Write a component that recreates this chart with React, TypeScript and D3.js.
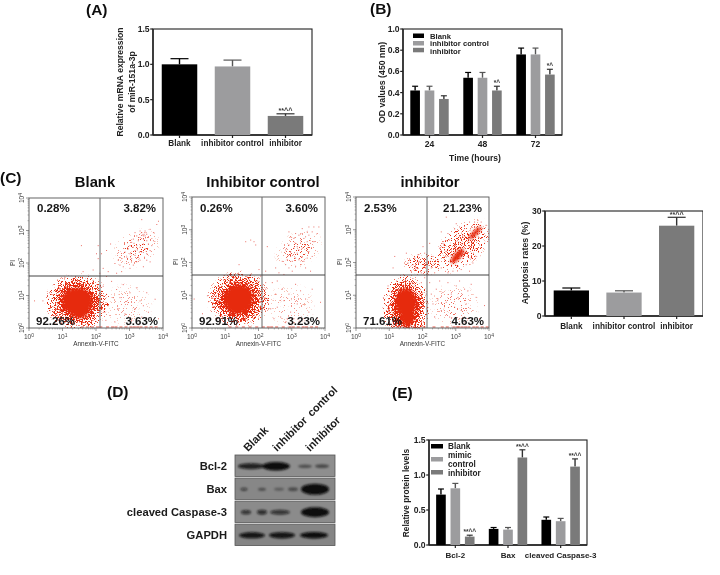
import React from "react";
import * as d3 from "d3";

const FONT = "'Liberation Sans', Arial, sans-serif";
const BLACK = "#060606", LIGHT = "#9c9c9e", DARK = "#7a7a7a";
const groupColors = [BLACK, LIGHT, DARK];

// ---- panel A
const aCats = ["Blank", "inhibitor control", "inhibitor"];
const aVals = [1.0, 0.97, 0.27];
const aErr = [1.08, 1.06, 0.3];
const aNotes = ["", "", "**^^"];
// ---- panel C bars
const cCats = ["Blank", "inhibitor control", "inhibitor"];
const cVals = [7.3, 6.7, 25.8];
const cErr = [8.0, 7.2, 28.2];
const cNotes = ["", "", "**^^"];
// ---- panel B
const bCats = ["24", "48", "72"];
const bSeries = ["Blank", "inhibitor control", "inhibitor"];
const bVals = [[0.42, 0.42, 0.34], [0.54, 0.54, 0.42], [0.76, 0.76, 0.57]];
const bErr = [[0.46, 0.46, 0.37], [0.59, 0.59, 0.46], [0.82, 0.82, 0.62]];
const bNotes = [["", "", ""], ["", "", "*^"], ["", "", "*^"]];
// ---- panel E
const eCats = ["Bcl-2", "Bax", "cleaved Caspase-3"];
const eVals = [[0.72, 0.81, 0.12], [0.23, 0.22, 1.25], [0.36, 0.34, 1.12]];
const eErr = [[0.8, 0.88, 0.14], [0.25, 0.25, 1.36], [0.4, 0.38, 1.23]];
const eNotes = [["", "", "**^^"], ["", "", "**^^"], ["", "", "**^^"]];
const eLegend = [["Blank"], ["mimic", "control"], ["inhibitor"]];

// ---- panel D, western blot: band [lane centre, half width, half height, darkness] per row
const blotRows = ["Bcl-2", "Bax", "cleaved Caspase-3", "GAPDH"];
const blotLabels = ["Blank", "inhibitor control", "inhibitor"];
const blotBands: number[][][] = [
  [[0.16, 0.13, 3, 0.85], [0.41, 0.14, 4.2, 1], [0.7, 0.07, 1.7, 0.45], [0.87, 0.07, 1.9, 0.5]],
  [[0.09, 0.035, 1.7, 0.55], [0.27, 0.04, 1.6, 0.45], [0.44, 0.05, 1.4, 0.35], [0.58, 0.05, 1.9, 0.45], [0.8, 0.14, 5.6, 1]],
  [[0.11, 0.05, 2.2, 0.7], [0.27, 0.05, 2.4, 0.75], [0.45, 0.1, 2.4, 0.7], [0.8, 0.14, 5, 1]],
  [[0.17, 0.13, 3, 0.95], [0.47, 0.13, 3.1, 0.95], [0.79, 0.14, 3.2, 1]],
];
const blotFill = ["#8e8e8e", "#878787", "#8b8b8b", "#858585"];

// ---- panel C flow plots: positions are log10 decades
const flowTitles = ["Blank", "Inhibitor control", "inhibitor"];
const flowPct = [
  ["0.28%", "3.82%", "92.26%", "3.63%"],
  ["0.26%", "3.60%", "92.91%", "3.23%"],
  ["2.53%", "21.23%", "71.61%", "4.63%"],
];
// density clouds: [cx, cy, rx, ry, angle, peak density]
const flowClouds = [
  [[1.45, 0.8, 1.0, 0.88, 0, 1], [3.2, 2.45, 0.8, 0.55, -30, 0.2], [2.95, 0.7, 0.8, 0.7, 0, 0.1]],
  [[1.4, 0.88, 0.98, 0.88, 0, 1], [3.2, 2.4, 0.8, 0.55, -30, 0.18], [2.95, 0.7, 0.8, 0.7, 0, 0.1]],
  [[1.5, 0.62, 0.74, 1.05, 0, 1], [3.2, 2.5, 1.1, 0.62, -42, 0.45], [2.0, 1.95, 0.6, 0.38, 0, 0.35], [2.95, 0.7, 0.8, 0.7, 0, 0.14]],
];
// solid centres of the clouds: [cx, cy, rx, ry, angle]
const flowCores = [
  [[1.45, 0.82, 0.44, 0.4, 0], [1.52, 0.68, 0.3, 0.36, 0], [1.32, 0.9, 0.3, 0.28, 0]],
  [[1.4, 0.88, 0.42, 0.42, 0], [1.5, 0.95, 0.3, 0.34, 0], [1.3, 0.72, 0.26, 0.28, 0]],
  [[1.5, 0.78, 0.3, 0.42, 0], [1.55, 0.38, 0.2, 0.32, 0], [3.05, 2.2, 0.28, 0.1, -48], [3.58, 2.9, 0.26, 0.07, -45]],
];
const flowUpper = [
  [[2.6,1.7],[2.7,1.95],[2.55,2],[2.8,1.9],[2.9,2],[3,1.85],[3.1,1.95],[3.2,2.05],[2.65,2.1],[2.75,2.15],[2.9,2.2],[3,2.3],[3.05,2.15],[3.15,2.25],[3.25,2.2],[3.3,2.1],[3.4,1.9],[3.5,2.1],[3.6,2.05],[2.85,2.35],[2.95,2.45],[3,2.55],[3.05,2.65],[3.1,2.5],[3.15,2.4],[3.2,2.55],[3.25,2.7],[3.3,2.5],[3.35,2.35],[3.4,2.6],[3.45,2.45],[3.5,2.3],[3.55,2.6],[3.6,2.4],[3.65,2.55],[3.7,2.7],[3.1,2.75],[3.2,2.85],[3.3,2.8],[3.35,2.95],[3.4,2.85],[3.45,3],[3.5,2.9],[3.55,2.8],[3.45,2.85],[3.4,2.75],[3.6,3.05],[3.7,2.95],[3.8,3.2],[3.85,3.3],[3.3,3],[3.5,2.7],[3.15,2.95],[3.42,2.9],[3.48,2.95],[3.38,2.88],[3.28,2.35],[3.12,2.62],[3.22,2.42],[2.75,1.75],[3.35,3.35],[1.55,2.55],[2.05,2.15],[2.15,2.3],[2,2.3],[2.3,2.4],[2.2,1.85],[1.9,1.8],[2.35,1.75],[2.05,2.55],[2.42,2.6],[2.3,1.6],[2.1,1.7],[1.6,1.75]],
  [[2.2,1.75],[2.5,1.85],[2.6,1.7],[2.75,1.65],[2.8,1.95],[2.9,1.85],[3,1.75],[3.1,1.9],[3.25,1.95],[3.4,1.85],[3.55,1.75],[2.7,2.05],[2.85,2.1],[2.95,2.2],[3,2.05],[3.1,2.15],[3.15,2.3],[3.2,2.1],[3.3,2.2],[3.35,2.05],[3.45,2.15],[3.5,2.35],[3.6,2.2],[2.8,2.4],[2.9,2.55],[2.95,2.35],[3.05,2.45],[3.1,2.6],[3.15,2.5],[3.2,2.4],[3.25,2.6],[3.3,2.45],[3.35,2.75],[3.4,2.55],[3.45,2.65],[3.5,2.85],[3.55,2.6],[3.65,2.65],[3.75,2.9],[3.05,2.75],[3.1,2.9],[3.2,2.85],[3.3,2.9],[3.4,2.8],[3.45,2.95],[3.6,2.95],[3.3,3.05],[3.5,3.1],[3.65,3.1],[3.8,3.1],[2.9,2.95],[2.95,2.8],[1.6,2.65],[1.75,2.7],[1.85,2.65],[1.9,2.55],[2.25,2.5],[1.4,1.95],[1.75,1.65],[2,1.8],[2.2,1.4],[2.55,1.45]],
  [[1.1,1.85],[1.15,2.2],[1.5,2.3],[1.55,2.0],[1.6,2.1],[1.65,1.75],[1.7,1.95],[1.75,2.15],[1.8,1.85],[1.85,2.25],[1.9,2.05],[1.95,1.7],[2,2.5],[2.05,2.3],[2.1,1.75],[2.15,2.05],[2.2,2.6],[2.25,1.85],[2.3,2.2],[2.35,1.7],[2.45,2.1],[2.5,2.45],[2.55,1.85],[2.6,2.6],[2.65,2.05],[2.7,2.35],[2.75,1.7],[2.8,2.7],[2.85,2.25],[2.9,1.75],[2.95,2.55],[3,2.95],[3.05,1.9],[3.1,3.1],[3.15,1.8],[3.25,3.05],[3.3,1.95],[3.4,1.75],[3.45,2.15],[3.5,2.0],[3.55,2.4],[3.6,2.2],[3.7,2.55],[3.75,2.75],[3.8,3.05],[3.85,2.6],[2.7,3.4],[3.4,3.25],[3.55,3.25],[3.65,3.3],[3.75,3.25],[3.9,3.15],[3.0,3.2],[2.95,3.05],[3.2,2.85],[2.75,2.9],[2.55,2.95],[3.35,2.2],[3.25,2.3],[3.1,2.35]],
];
const flowLower = [
  [[2.2,1.3],[2.3,1.05],[2.35,0.7],[2.4,0.4],[2.45,1.45],[2.5,0.95],[2.55,0.2],[2.6,1.2],[2.65,0.6],[2.7,0.95],[2.8,1.35],[2.85,0.45],[2.95,0.8],[3,1.1],[3.05,0.25],[3.15,0.6],[3.2,1.25],[3.3,0.85],[3.35,0.35],[3.4,0.7],[3.5,1.1],[3.55,0.5],[3.65,0.25],[3.75,0.9],[3.85,0.3],[2.25,0.5],[2.28,0.25],[1.1,1.1],[0.6,1.1],[0.4,0.85],[0.15,0.85],[0.35,0.3],[0.7,0.4],[0.75,0.15],[1.5,1.45],[1.9,1.48],[2.05,1.35]],
  [[2.2,1.2],[2.25,0.9],[2.35,0.6],[2.4,1.4],[2.45,0.3],[2.5,1.05],[2.55,0.65],[2.65,0.35],[2.7,1.2],[2.75,0.85],[2.85,0.3],[2.9,1.05],[2.95,0.5],[3.05,0.3],[3.1,1.35],[3.15,0.75],[3.2,0.2],[3.25,1.15],[3.35,0.3],[3.4,0.9],[3.5,0.5],[3.6,1.2],[3.75,0.3],[3.85,0.8],[3.05,0.18],[2.8,0.18],[0.05,0.9],[0.45,1],[0.6,0.65],[0.7,0.3],[0.3,0.45],[1.7,1.5],[1.95,1.45],[2.05,1.6]],
  [[2.2,1.4],[2.25,1.05],[2.3,0.75],[2.35,0.35],[2.4,1.2],[2.45,0.9],[2.5,1.45],[2.55,0.55],[2.6,1.1],[2.7,0.8],[2.75,1.4],[2.8,0.35],[2.85,1.05],[2.95,0.65],[3,1.3],[3.05,0.95],[3.1,0.3],[3.15,0.55],[3.25,1.2],[3.3,0.75],[3.35,0.3],[3.45,1.35],[3.5,0.55],[3.6,0.95],[3.7,0.3],[3.85,0.7],[3.35,1.15],[3.1,1.45],[1.05,1.1],[0.9,0.55],[0.95,1.3],[1.1,0.2],[1.95,1.4],[2.05,1.55],[2.1,1.05],[2.1,0.6]],
];
const flowRug = [
  [1.55,1.7,1.85,2,2.1,2.3,2.45,2.55,2.7,2.85,3,3.1,3.2,3.3,3.45,3.6,3.75],
  [1.1,1.3,1.5,1.7,1.9,2.1,2.25,2.35,2.5,2.7,2.9,3,3.15,3.3,3.4,3.55,3.7],
  [1.2,1.4,1.7,2,2.3,2.55,2.7,2.9,3,3.05,3.15,3.25,3.35,3.5,3.6,3.75,3.9],
];
const decades = [0, 1, 2, 3, 4];
const minorMult = [2, 3, 4, 5, 6, 7, 8, 9];

function Sup({ x, y, e, anchor, rot }: any) {
  return (
    <text transform={`translate(${x},${y})${rot ? " rotate(-90)" : ""}`} textAnchor={anchor} fontFamily={FONT} fontSize={6.6} fill="#444">
      10<tspan dy={-2.4} fontSize={5}>{e}</tspan>
    </text>
  );
}

function Flow({ i, left, right, top, bottom, vx, hy, titleX }: any) {
  const x = d3.scaleLinear().domain([0, 4]).range([left, right]);
  const y = d3.scaleLinear().domain([0, 4]).range([bottom, top]);
  const k = (right - left) / 4;
  const [ul, ur, ll, lr] = flowPct[i];
  const pctStyle: any = { fontFamily: FONT, fontWeight: 700, fontSize: 11.5, fill: "#161616" };
  const grey = "#555";
  return (
    <g>
      <text x={titleX} y={187} textAnchor="middle" fontFamily={FONT} fontWeight={700} fontSize={14.8} fill="#111">{flowTitles[i]}</text>
      <clipPath id={`fc${i}`}><rect x={left} y={top} width={right - left} height={bottom - top} /></clipPath>
      <g clipPath={`url(#fc${i})`}>
        <g filter="url(#grain)">
          {flowClouds[i].map((e, j) => (
            <ellipse key={j} cx={0} cy={0} rx={e[2] * k} ry={e[3] * k} fill="url(#cloud)" fillOpacity={e[5]}
              transform={`translate(${x(e[0])},${y(e[1])}) rotate(${e[4]})`} />
          ))}
        </g>
        <g filter="url(#soft)">
          {flowCores[i].map((e, j) => (
            <ellipse key={j} cx={0} cy={0} rx={e[2] * k} ry={e[3] * k} fill="#e62a10"
              transform={`translate(${x(e[0])},${y(e[1])}) rotate(${e[4]})`} />
          ))}
        </g>
        {[...flowUpper[i], ...flowLower[i]].map((p, j) => (
          <rect key={j} x={x(p[0])} y={y(p[1])} width={1} height={1} fill="#e2342a" opacity={0.7} />
        ))}
        {flowRug[i].map((v, j) => (
          <rect key={j} x={x(v)} y={bottom - 1.6} width={3} height={1.2} fill="#e2342a" opacity={0.7} />
        ))}
      </g>
      <rect x={left} y={top} width={right - left} height={bottom - top} fill="none" stroke="#555" strokeWidth={0.9} />
      <line x1={vx} x2={vx} y1={top} y2={bottom} stroke="#666" strokeWidth={1} />
      <line x1={left} x2={right} y1={hy} y2={hy} stroke="#444" strokeWidth={1} />
      {decades.map((d) => (
        <g key={d}>
          <line x1={x(d)} x2={x(d)} y1={bottom} y2={bottom + 3} stroke={grey} strokeWidth={0.6} />
          <line y1={y(d)} y2={y(d)} x1={left} x2={left - 3} stroke={grey} strokeWidth={0.6} />
          <Sup x={x(d)} y={bottom + 11} e={d} anchor="middle" />
          <Sup x={left - 5} y={y(d)} e={d} anchor="middle" rot />
          {d < 4 && minorMult.map((m) => (
            <g key={m}>
              <line x1={x(d + Math.log10(m))} x2={x(d + Math.log10(m))} y1={bottom} y2={bottom + 1.5} stroke={grey} strokeWidth={0.4} />
              <line y1={y(d + Math.log10(m))} y2={y(d + Math.log10(m))} x1={left} x2={left - 1.5} stroke={grey} strokeWidth={0.4} />
            </g>
          ))}
        </g>
      ))}
      <text transform={`translate(${left - 14.5},${hy - 13}) rotate(-90)`} textAnchor="middle" fontFamily={FONT} fontSize={6.5} fill="#333">PI</text>
      <text x={(left + right) / 2} y={bottom + 17.5} textAnchor="middle" fontFamily={FONT} fontSize={6.4} fill="#333">Annexin-V-FITC</text>
      <text x={left + 8} y={212} {...pctStyle}>{ul}</text>
      <text x={right - 7} y={212} textAnchor="end" {...pctStyle}>{ur}</text>
      <text x={left + 7} y={325} {...pctStyle}>{ll}</text>
      <text x={right - 5} y={325} textAnchor="end" {...pctStyle}>{lr}</text>
    </g>
  );
}

function Frame({ left, right, top, bottom, y, ticks, fmt, fs }: any) {
  return (
    <g>
      <rect x={left} y={top} width={right - left} height={bottom - top} fill="none" stroke="#222" strokeWidth={1.1} />
      <line x1={left} x2={right} y1={bottom} y2={bottom} stroke="#222" strokeWidth={1.4} />
      <line x1={left} x2={left} y1={top} y2={bottom} stroke="#222" strokeWidth={1.4} />
      {ticks.map((t: number) => (
        <g key={t}>
          <line x1={left - 2.8} x2={left} y1={y(t)} y2={y(t)} stroke="#222" strokeWidth={1.2} />
          <text x={left - 3.4} y={y(t) + fs * 0.36} textAnchor="end" fontFamily={FONT} fontWeight={700} fontSize={fs} fill="#222">{fmt(t)}</text>
        </g>
      ))}
    </g>
  );
}

function Bar({ x, w, y, v, e, fill, note, capW, bottom, noteFs }: any) {
  const cx = x + w / 2;
  const err = fill === LIGHT ? "#555" : fill === DARK ? "#333" : fill;
  return (
    <g>
      <line x1={cx} x2={cx} y1={y(e)} y2={y(v)} stroke={err} strokeWidth={1.4} />
      <line x1={cx - capW / 2} x2={cx + capW / 2} y1={y(e)} y2={y(e)} stroke={err} strokeWidth={1.2} />
      <rect x={x} y={y(v)} width={w} height={bottom - y(v)} fill={fill} />
      {note && <text x={cx} y={y(e) - 0.8} textAnchor="middle" fontFamily={FONT} fontWeight={700} fontSize={noteFs} fill="#333">{note}</text>}
    </g>
  );
}

function SimpleBars({ left, right, top, bottom, max, ticks, fmt, cats, vals, errs, notes, labelY, capW }: any) {
  const y = d3.scaleLinear().domain([0, max]).range([bottom, top]);
  const x = d3.scaleBand<string>().domain(cats).range([left, right]).paddingInner(0.33).paddingOuter(0.165);
  return (
    <g>
      <Frame left={left} right={right} top={top} bottom={bottom} y={y} ticks={ticks} fmt={fmt} fs={8.6} />
      {cats.map((c: string, i: number) => (
        <g key={c}>
          <Bar x={x(c)} w={x.bandwidth()} y={y} v={vals[i]} e={errs[i]} fill={groupColors[i]} note={notes[i]} capW={capW} bottom={bottom} noteFs={7.2} />
          <line x1={x(c)! + x.bandwidth() / 2} x2={x(c)! + x.bandwidth() / 2} y1={bottom} y2={bottom + 3} stroke="#222" strokeWidth={1.2} />
          <text x={x(c)! + x.bandwidth() / 2} y={labelY} textAnchor="middle" fontFamily={FONT} fontWeight={700} fontSize={8.2} fill="#222">{c}</text>
        </g>
      ))}
    </g>
  );
}

function GroupBars({ left, right, top, bottom, max, ticks, fmt, cats, vals, errs, notes, labelY, labelFs }: any) {
  const y = d3.scaleLinear().domain([0, max]).range([bottom, top]);
  const x = d3.scaleBand<string>().domain(cats).range([left, right]);
  const sub = d3.scaleBand<number>().domain([0, 1, 2]).range([-19.2, 19.2]).paddingInner(0.33);
  return (
    <g>
      <Frame left={left} right={right} top={top} bottom={bottom} y={y} ticks={ticks} fmt={fmt} fs={8.6} />
      {cats.map((c: string, i: number) => {
        const cx = x(c)! + x.bandwidth() / 2;
        return (
          <g key={c}>
            {vals[i].map((v: number, j: number) => (
              <Bar key={j} x={cx + sub(j)!} w={sub.bandwidth()} y={y} v={v} e={errs[i][j]} fill={groupColors[j]} note={notes[i][j]} capW={sub.bandwidth() * 0.62} bottom={bottom} noteFs={6.5} />
            ))}
            <line x1={cx} x2={cx} y1={bottom} y2={bottom + 3} stroke="#222" strokeWidth={1.2} />
            <text x={cx} y={labelY} textAnchor="middle" fontFamily={FONT} fontWeight={700} fontSize={labelFs} fill="#222">{c}</text>
          </g>
        );
      })}
    </g>
  );
}

function Blot() {
  const x = d3.scaleLinear().domain([0, 1]).range([235, 335]);
  const rowY = d3.scaleBand<string>().domain(blotRows).range([455, 545.5]).paddingInner(0.07);
  const labelStarts = [248, 277, 310];
  return (
    <g>
      {blotLabels.map((l, i) => (
        <text key={l} transform={`translate(${labelStarts[i]},${452}) rotate(-45)`} fontFamily={FONT} fontWeight={700} fontSize={11} fill="#1a1a1a" wordSpacing={2}>{l}</text>
      ))}
      {blotRows.map((r, i) => {
        const top = rowY(r)!;
        const h = rowY.bandwidth();
        return (
          <g key={r}>
            <text x={227} y={top + h / 2 + 3.8} textAnchor="end" fontFamily={FONT} fontWeight={700} fontSize={11.2} fill="#1a1a1a">{r}</text>
            <rect x={235} y={top} width={100} height={h} fill={blotFill[i]} stroke="#555" strokeWidth={0.8} />
            <g filter="url(#band)">
              {blotBands[i].map((b, j) => (
                <ellipse key={j} cx={x(b[0])} cy={top + h / 2 + 0.5} rx={b[1] * 100} ry={b[2]} fill="#0c0c0c" opacity={b[3]} />
              ))}
            </g>
          </g>
        );
      })}
    </g>
  );
}

export default function App() {
  const f1 = (t: number) => t.toFixed(1);
  const f0 = (t: number) => `${t}`;
  const bold: any = { fontFamily: FONT, fontWeight: 700, fill: "#222" };
  const head: any = { fontFamily: FONT, fontWeight: 700, fontSize: 15.5, fill: "#111" };
  const bLegendY = [33.5, 41, 47.8];
  const bLegendText = [38.5, 46.1, 53.7];
  return (
    <svg width={720} height={575} style={{ position: "absolute", left: 0, top: 0, background: "#fff" }}>
      <defs>
        <radialGradient id="cloud">
          <stop offset="0" stopColor="#e62a10" stopOpacity={1} />
          <stop offset="0.42" stopColor="#e62a10" stopOpacity={0.97} />
          <stop offset="0.58" stopColor="#e62a10" stopOpacity={0.66} />
          <stop offset="0.8" stopColor="#e62a10" stopOpacity={0.42} />
          <stop offset="1" stopColor="#e62a10" stopOpacity={0} />
        </radialGradient>
        {/* stipples a density cloud into single dots; the clouds themselves are read from the picture */}
        <filter id="grain" x="-5%" y="-5%" width="110%" height="110%" colorInterpolationFilters="sRGB">
          <feTurbulence type="fractalNoise" baseFrequency="1.3" numOctaves={1} seed={4} result="n" />
          <feColorMatrix in="n" type="matrix" values="0 0 0 0 0  0 0 0 0 0  0 0 0 0 0  3 0 0 0 -1" result="na" />
          <feComposite in="SourceGraphic" in2="na" operator="arithmetic" k1={0} k2={1} k3={1} k4={-1} result="c" />
          <feColorMatrix in="c" type="matrix" values="0 0 0 0 0.9  0 0 0 0 0.16  0 0 0 0 0.06  0 0 0 5 0" />
        </filter>
        <filter id="soft" x="-30%" y="-30%" width="160%" height="160%"><feGaussianBlur stdDeviation={1.5} /></filter>
        <filter id="band" x="-20%" y="-100%" width="140%" height="300%"><feGaussianBlur stdDeviation={0.9} /></filter>
        <filter id="page" x="0" y="0" width="100%" height="100%"><feGaussianBlur stdDeviation={0.35} /></filter>
      </defs>
      <g filter="url(#page)">
        <text x={86} y={15} {...head}>(A)</text>
        <text x={370} y={14} {...head}>(B)</text>
        <text x={0} y={183} {...head}>(C)</text>
        <text x={107} y={397} {...head}>(D)</text>
        <text x={392} y={398} {...head}>(E)</text>

        {/* A */}
        <SimpleBars left={153} right={312} top={29} bottom={135} max={1.5} ticks={[0, 0.5, 1, 1.5]} fmt={f1}
          cats={aCats} vals={aVals} errs={aErr} notes={aNotes} labelY={146} capW={18} />
        <text transform="translate(123,82) rotate(-90)" textAnchor="middle" fontSize={8.6} {...bold}>Relative mRNA expression</text>
        <text transform="translate(135,82) rotate(-90)" textAnchor="middle" fontSize={8.6} {...bold}>of miR-151a-3p</text>

        {/* B */}
        <GroupBars left={403} right={562} top={29} bottom={135} max={1} ticks={[0, 0.2, 0.4, 0.6, 0.8, 1]} fmt={f1}
          cats={bCats} vals={bVals} errs={bErr} notes={bNotes} labelY={147} labelFs={8.6} />
        <text transform="translate(385,82.5) rotate(-90)" textAnchor="middle" fontSize={8.75} {...bold}>OD values (450 nm)</text>
        <text x={475} y={161} textAnchor="middle" fontSize={8.6} {...bold}>Time (hours)</text>
        {bSeries.map((s, i) => (
          <g key={s}>
            <rect x={413} y={bLegendY[i]} width={11} height={4.5} fill={groupColors[i]} />
            <text x={430} y={bLegendText[i]} fontSize={7.7} {...bold}>{s}</text>
          </g>
        ))}

        {/* C */}
        <Flow i={0} left={29} right={163} top={198} bottom={328} vx={100} hy={276} titleX={95} />
        <Flow i={1} left={192} right={325} top={197} bottom={328} vx={262} hy={275} titleX={263} />
        <Flow i={2} left={356} right={489} top={197} bottom={328} vx={427} hy={275} titleX={430} />
        <SimpleBars left={545} right={703} top={211} bottom={316} max={30} ticks={[0, 10, 20, 30]} fmt={f0}
          cats={cCats} vals={cVals} errs={cErr} notes={cNotes} labelY={328.5} capW={18} />
        <text transform="translate(528,263) rotate(-90)" textAnchor="middle" fontSize={8.8} {...bold}>Apoptosis rates (%)</text>

        {/* D */}
        <Blot />

        {/* E */}
        <GroupBars left={429} right={587} top={440} bottom={545} max={1.5} ticks={[0, 0.5, 1, 1.5]} fmt={f1}
          cats={eCats} vals={eVals} errs={eErr} notes={eNotes} labelY={558} labelFs={8} />
        <text transform="translate(409,493) rotate(-90)" textAnchor="middle" fontSize={8.4} {...bold}>Relative protein levels</text>
        {eLegend.map((lines, i) => (
          <g key={i}>
            <rect x={431} y={444 + i * 13} width={12} height={4.5} fill={groupColors[i]} />
            {lines.map((l, j) => (
              <text key={l} x={448} y={(i === 0 ? 449 : i === 1 ? 458 : 476) + j * 9} fontSize={8.2} {...bold}>{l}</text>
            ))}
          </g>
        ))}
      </g>
    </svg>
  );
}
